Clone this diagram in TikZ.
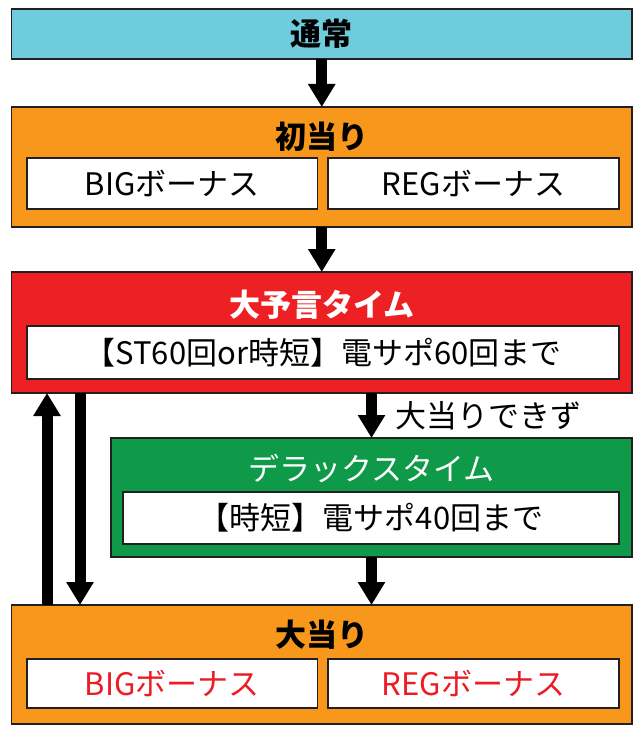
\documentclass[tikz,border=0pt]{standalone}
\usepackage{fontspec}
\setmainfont{Noto Sans CJK JP}
\usetikzlibrary{arrows.meta}

\definecolor{tsujocol}{RGB}{110,204,220}
\definecolor{atarcol}{RGB}{247,152,29}
\definecolor{yogencol}{RGB}{237,32,36}
\definecolor{deluxcol}{RGB}{14,154,72}
\definecolor{boxline}{RGB}{35,31,32}
\definecolor{redtext}{RGB}{237,28,36}

\tikzset{
	frame/.style={draw=boxline, line width=1.3pt, inner sep=0pt, outer sep=0pt},
	inbox/.style={frame, fill=white, font=\fontsize{31}{34}\selectfont},
	title/.style={inner sep=0pt, font=\fontsize{31}{34}\selectfont},
	arr/.style={line width=11pt, -{Triangle[width=26pt,length=23pt]}}
}

\begin{document}
\begin{tikzpicture}[x=1pt,y=-1pt]
	\useasboundingbox (0,0) rectangle (640,730);
	\node[frame, fill=tsujocol, minimum width=620.5pt, minimum height=50pt] (tsujo) at (321.75,34) {};
	\node[title] (tsujot) at (tsujo) {\bfseries 通常};
	%
	\node[frame, fill=atarcol, minimum width=620.5pt, minimum height=120pt] (hatsu) at (321.75,167) {};
	\node[title] (hatsut) at (321.75,137) {\bfseries 初当り};
	\node[inbox, minimum width=290.5pt, minimum height=51pt] (hbig) at (172.25,183.5) {BIGボーナス};
	\node[inbox, minimum width=291pt, minimum height=51pt] (hreg) at (473.5,183.5) {REGボーナス};
	%
	\node[frame, fill=yogencol, minimum width=620.5pt, minimum height=121pt] (yogen) at (321.75,332.5) {};
	\node[title, text=white] (yogent) at (321.75,305) {\bfseries 大予言タイム};
	\node[inbox, minimum width=592pt, minimum height=53pt] (yogeni) at (323,352.5) {【ST60回or時短】電サポ60回まで};
	%
	\node[frame, fill=deluxcol, minimum width=521pt, minimum height=119pt] (deluxe) at (371.5,497.5) {};
	\node[title, text=white] (deluxet) at (371.5,468) {デラックスタイム};
	\node[inbox, minimum width=496pt, minimum height=52pt] (deluxei) at (371,518) {【時短】電サポ40回まで};
	%
	\node[frame, fill=atarcol, minimum width=620.5pt, minimum height=119pt] (atari) at (321.75,664.5) {};
	\node[title] (atarit) at (321.75,635) {\bfseries 大当り};
	\node[inbox, text=redtext, minimum width=290.5pt, minimum height=49pt] (abig) at (172.25,683.5) {BIGボーナス};
	\node[inbox, text=redtext, minimum width=291pt, minimum height=49pt] (areg) at (473.5,683.5) {REGボーナス};
	%
	\draw[arr] (tsujo.south) -- (hatsu.north);
	\draw[arr] (hatsu.south) -- (yogen.north);
	\draw[arr] (yogen.south -| deluxe.north) -- node[right, xshift=18pt, title] {大当りできず} (deluxe.north);
	\draw[arr] (deluxe.south) -- (atari.north -| deluxe.south);
	\draw[arr] ([xshift=68.5pt]yogen.south west) -- ([xshift=68.5pt]atari.north west);
	\draw[arr] ([xshift=35.5pt]atari.north west) -- ([xshift=35.5pt]yogen.south west);
\end{tikzpicture}
\end{document}
